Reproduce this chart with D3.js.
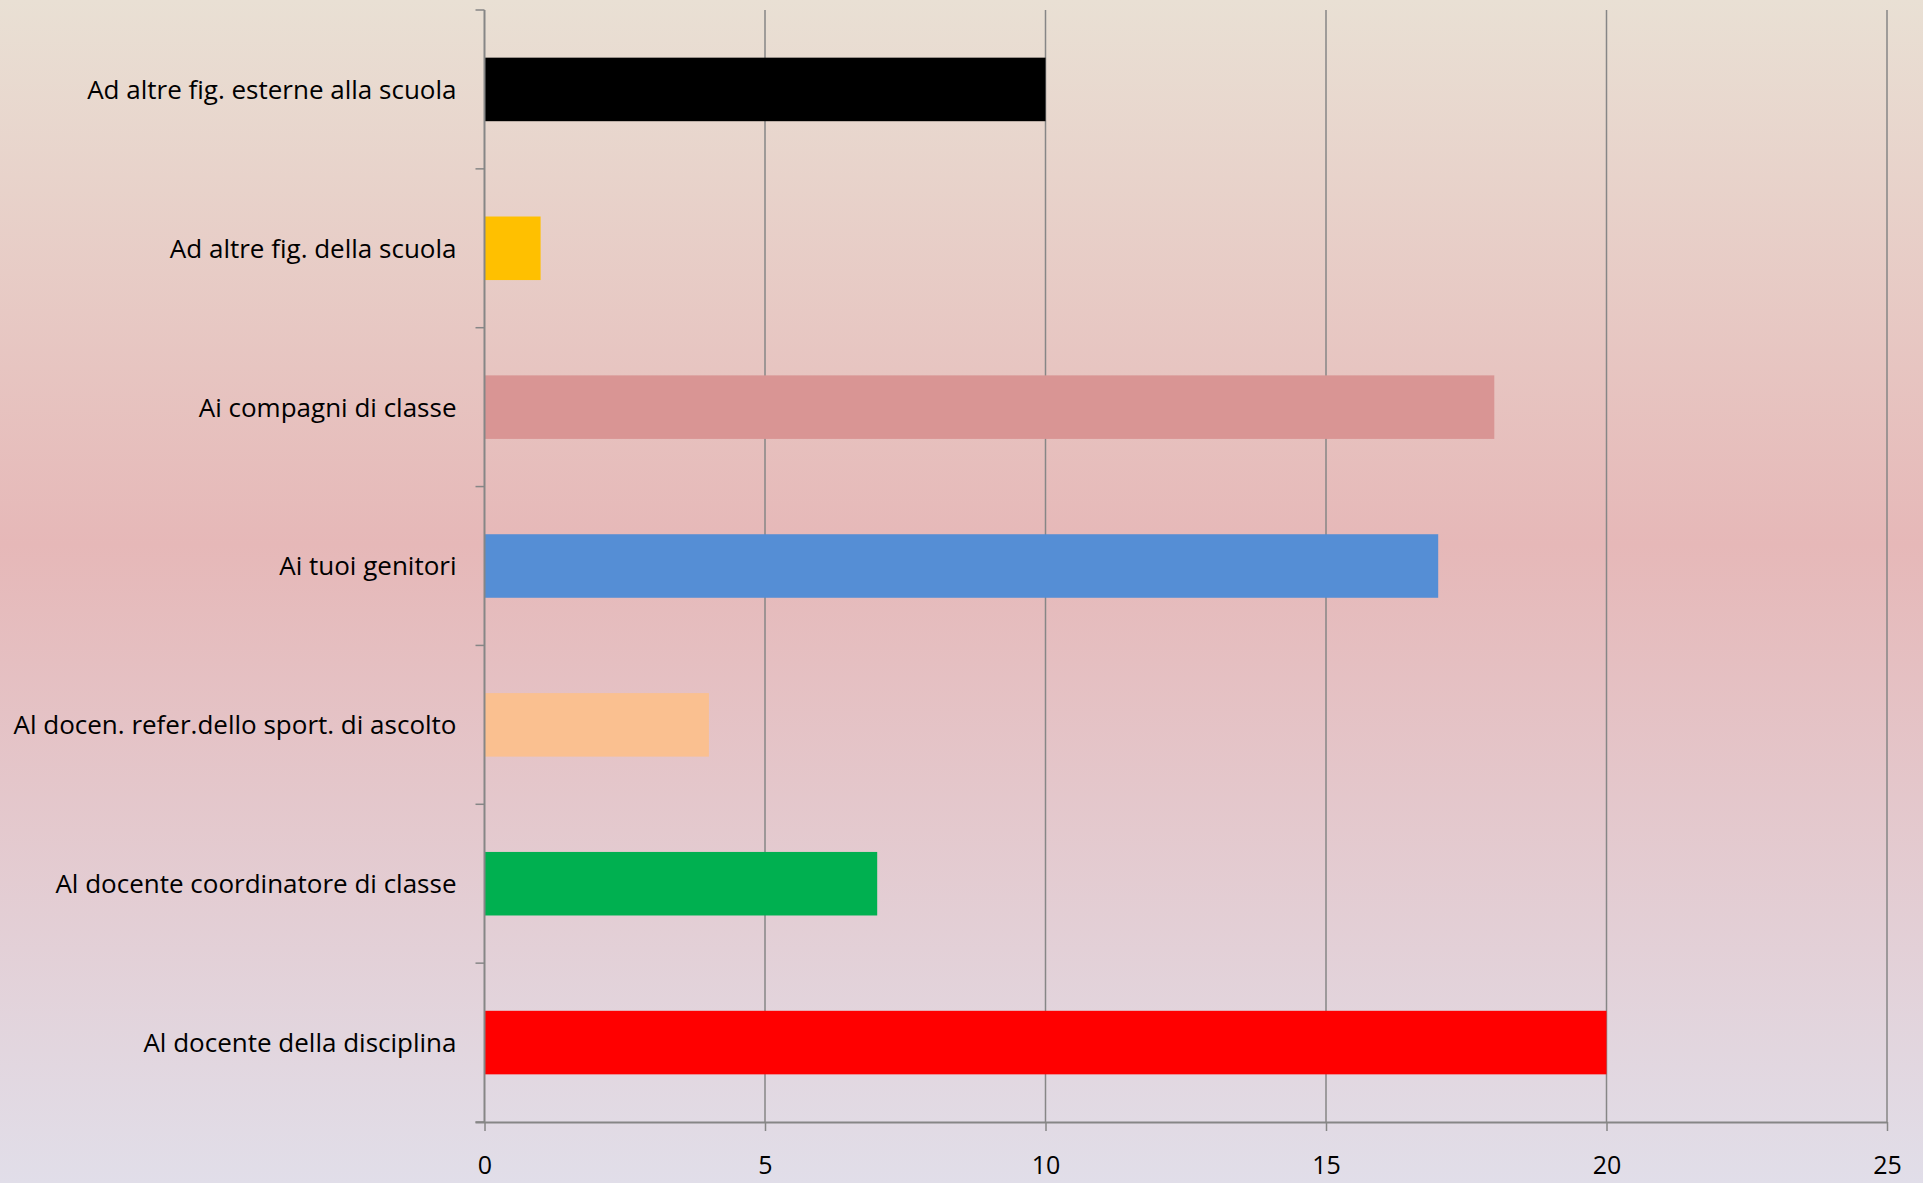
<!DOCTYPE html>
<html>
<head>
<meta charset="utf-8">
<script src="https://cdn.jsdelivr.net/npm/d3@7/dist/d3.min.js"></script>
<style>
html,body{margin:0;padding:0;overflow:hidden;}
svg{display:block;}
text{font-family:"Open Sans",Lato,sans-serif;fill:#000;}
</style>
</head>
<body>
<script>
const categories = [
  "Ad altre fig. esterne alla scuola",
  "Ad altre fig. della scuola",
  "Ai compagni di classe",
  "Ai tuoi genitori",
  "Al docen. refer.dello sport. di ascolto",
  "Al docente coordinatore di classe",
  "Al docente della disciplina"
];
const values = [10, 1, 18, 17, 4, 7, 20];
const colors = ["#000000", "#FFC000", "#D99594", "#558ED5", "#FAC090", "#00B050", "#FF0000"];
const xTicks = [0, 5, 10, 15, 20, 25];

const W = 1923, H = 1183;
const margin = {top: 10, right: 36, bottom: 61, left: 484.5};

const svg = d3.select("body").append("svg").attr("width", W).attr("height", H);

const defs = svg.append("defs");
const grad = defs.append("linearGradient").attr("id","bg").attr("x1",0).attr("y1",0).attr("x2",0).attr("y2",1);
grad.append("stop").attr("offset","0%").attr("stop-color","#E9E0D4");
grad.append("stop").attr("offset","46%").attr("stop-color","#E6B8B8");
grad.append("stop").attr("offset","100%").attr("stop-color","#E1DEE9");
svg.append("rect").attr("width",W).attr("height",H).attr("fill","url(#bg)");

const x = d3.scaleLinear().domain([0, 25]).range([margin.left, W - margin.right]);
const y = d3.scaleBand().domain(categories).range([margin.top, H - margin.bottom]).paddingInner(0.6).paddingOuter(0.3);
const yEdge = d3.scaleLinear().domain([0, categories.length]).range([margin.top, H - margin.bottom]);

// gridlines
svg.append("g").selectAll("line").data(xTicks.filter(d => d > 0)).join("line")
  .attr("x1", d => x(d)).attr("x2", d => x(d))
  .attr("y1", margin.top).attr("y2", H - margin.bottom)
  .attr("stroke", "#868686").attr("stroke-width", 1.5);

// bars
svg.append("g").selectAll("rect").data(categories).join("rect")
  .attr("x", x(0))
  .attr("y", d => y(d))
  .attr("width", (d, i) => x(values[i]) - x(0))
  .attr("height", y.bandwidth())
  .attr("fill", (d, i) => colors[i]);

// x axis
const xAxis = d3.axisBottom(x).tickValues(xTicks).tickSize(9).tickSizeOuter(0);
const gx = svg.append("g").attr("transform", `translate(0,${H - margin.bottom})`).call(xAxis);
gx.select(".domain").attr("stroke", "#868686").attr("stroke-width", 2)
  .attr("d", `M${x(0) - 9},0.5H${x(25)}`);
gx.selectAll(".tick line").attr("stroke", "#868686").attr("stroke-width", 1.5);
gx.selectAll(".tick text").attr("font-size", 25).attr("font-family", "'Open Sans',Lato,sans-serif")
  .attr("dy", null).attr("y", 52);

// y axis (tick marks at band boundaries)
const gy = svg.append("g");
gy.append("line").attr("x1", x(0)).attr("x2", x(0)).attr("y1", margin.top).attr("y2", H - margin.bottom)
  .attr("stroke", "#868686").attr("stroke-width", 2);
gy.selectAll("line.tk").data(d3.range(categories.length + 1)).join("line").attr("class","tk")
  .attr("x1", x(0) - 9).attr("x2", x(0))
  .attr("y1", d => yEdge(d)).attr("y2", d => yEdge(d))
  .attr("stroke", "#868686").attr("stroke-width", 1.5);
gy.selectAll("text").data(categories).join("text")
  .attr("x", x(0) - 28)
  .attr("y", d => y(d) + y.bandwidth() / 2)
  .attr("dy", "0.36em")
  .attr("text-anchor", "end")
  .attr("font-size", 26)
  .text(d => d);
</script>
</body>
</html>
